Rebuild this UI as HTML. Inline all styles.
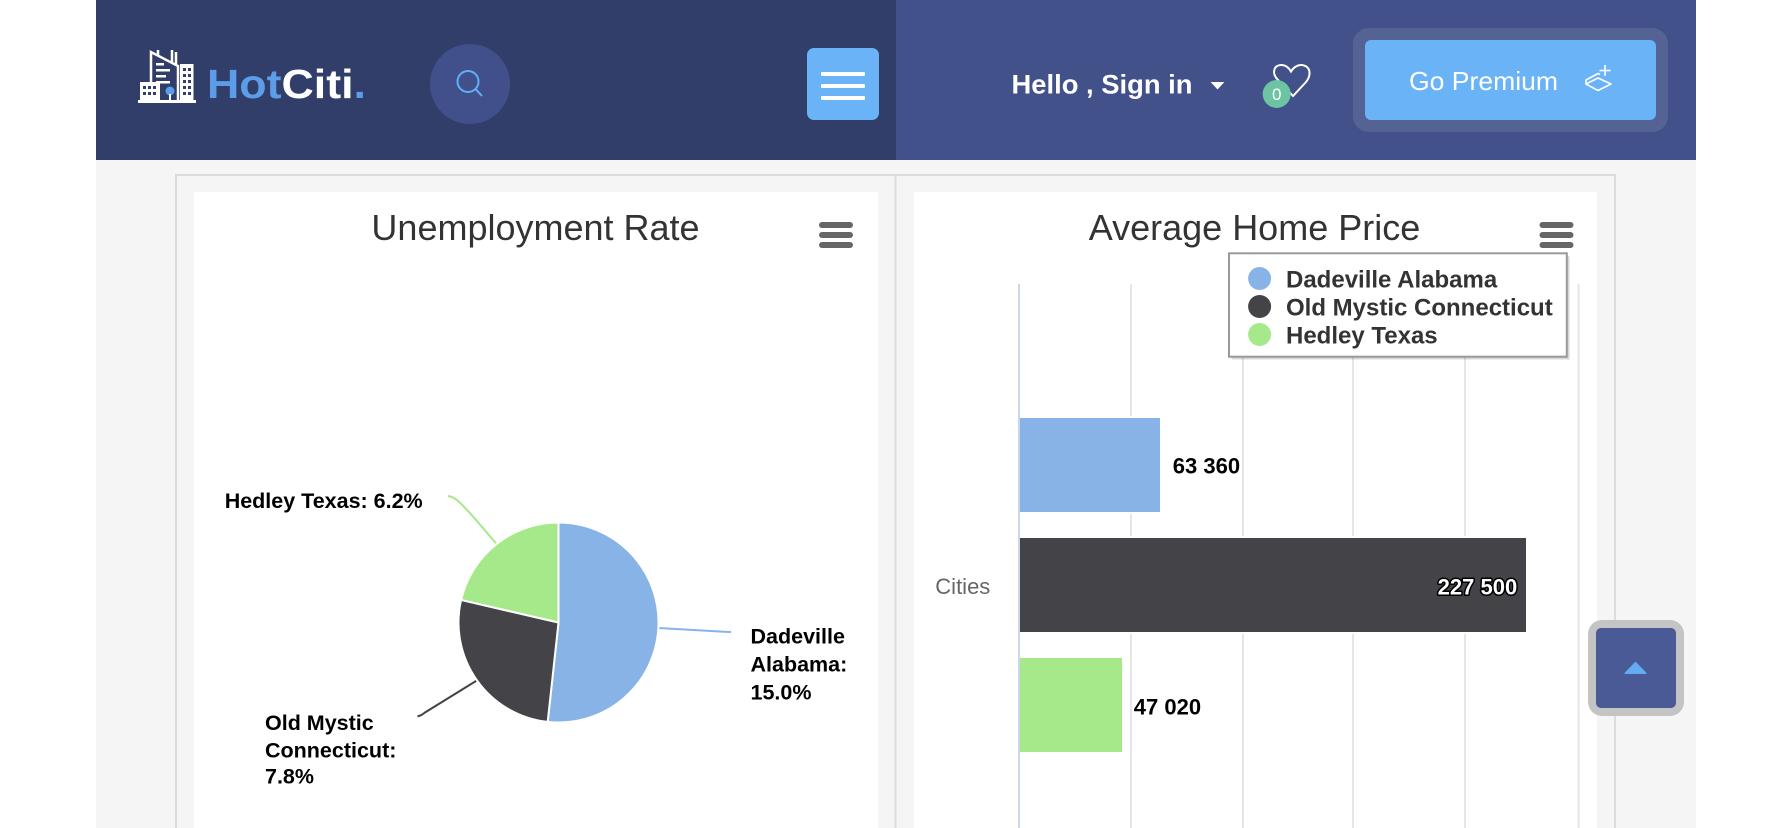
<!DOCTYPE html>
<html>
<head>
<meta charset="utf-8">
<style>
html,body{margin:0;padding:0;background:#fff;}
body{width:1792px;height:828px;overflow:hidden;}
svg{display:block;font-family:"Liberation Sans",Arial,sans-serif;}
</style>
</head>
<body>
<svg width="1792" height="828" viewBox="0 0 1792 828" xmlns="http://www.w3.org/2000/svg">
  <!-- page background -->
  <rect x="0" y="0" width="1792" height="828" fill="#ffffff"/>
  <rect x="96" y="160" width="1600" height="668" fill="#f5f5f5"/>

  <!-- header -->
  <rect x="96" y="0" width="800" height="160" fill="#323e6a"/>
  <rect x="896" y="0" width="800" height="160" fill="#42518a"/>

  <!-- logo icon -->
  <g fill="none" stroke="#ffffff" stroke-width="2.5">
    <path d="M151 101 L151 52 L178 66 L178 101"/>
    <line x1="158" y1="50" x2="158" y2="56"/>
    <line x1="172" y1="50" x2="172" y2="62"/>
    <line x1="176" y1="52" x2="176" y2="64"/>
  </g>
  <g fill="#ffffff">
    <rect x="156" y="63" width="8" height="2.5"/>
    <rect x="156" y="69" width="14" height="2.5"/>
    <rect x="156" y="75" width="10" height="2.5"/>
    <rect x="156" y="81" width="14" height="2.5"/>
    <rect x="180" y="64" width="13.5" height="38"/>
    <rect x="140" y="82" width="20" height="20"/>
    <rect x="138" y="100" width="58" height="3"/>
  </g>
  <g fill="#323e6a">
    <rect x="183" y="68" width="3" height="3"/><rect x="188" y="68" width="3" height="3"/>
    <rect x="183" y="74" width="3" height="3"/><rect x="188" y="74" width="3" height="3"/>
    <rect x="183" y="80" width="3" height="3"/><rect x="188" y="80" width="3" height="3"/>
    <rect x="183" y="86" width="3" height="3"/><rect x="188" y="86" width="3" height="3"/>
    <rect x="183" y="92" width="3" height="3"/><rect x="188" y="92" width="3" height="3"/>
    <rect x="143" y="86" width="3" height="3"/><rect x="148" y="86" width="3" height="3"/><rect x="153" y="86" width="3" height="3"/>
    <rect x="143" y="92" width="3" height="3"/><rect x="148" y="92" width="3" height="3"/><rect x="153" y="92" width="3" height="3"/>
  </g>
  <circle cx="170" cy="91" r="4.5" fill="#5b9de8"/>
  <line x1="170" y1="94" x2="170" y2="101" stroke="#ffffff" stroke-width="2"/>

  <text x="207" y="98" font-size="41" font-weight="bold" textLength="159" lengthAdjust="spacingAndGlyphs"><tspan fill="#5b9de8">Hot</tspan><tspan fill="#ffffff">Citi</tspan><tspan fill="#5b9de8">.</tspan></text>

  <!-- search -->
  <circle cx="470" cy="84" r="40" fill="#41508a"/>
  <circle cx="468" cy="81.5" r="10.5" fill="none" stroke="#5fb0f5" stroke-width="2"/>
  <line x1="475.8" y1="89.3" x2="482" y2="96" stroke="#5fb0f5" stroke-width="2"/>

  <!-- hamburger button -->
  <rect x="807" y="48" width="72" height="72" rx="7" fill="#69b3f6"/>
  <rect x="821" y="72" width="44" height="4" rx="1" fill="#ffffff"/>
  <rect x="821" y="84" width="44" height="4" rx="1" fill="#ffffff"/>
  <rect x="821" y="96" width="44" height="4" rx="1" fill="#ffffff"/>

  <!-- Hello sign in -->
  <text x="1011.5" y="93.5" font-size="27" font-weight="bold" fill="#ffffff" textLength="181" lengthAdjust="spacingAndGlyphs">Hello , Sign in</text>
  <polygon points="1210.6,82 1224.4,82 1217.5,89.5" fill="#ffffff"/>

  <!-- heart -->
  <path d="M1293 96 L1278 80 C1271 73 1274 64.5 1282 65 C1286 65.3 1289 68 1291 71.5 C1294 66.5 1299 64 1304 65.5 C1311 67.5 1311 76 1306 82 Z" fill="none" stroke="#ffffff" stroke-width="2"/>
  <circle cx="1276.7" cy="94" r="14" fill="#6cc4a2"/>
  <text x="1276.7" y="100" font-size="17" fill="#ffffff" text-anchor="middle">0</text>

  <!-- Go Premium -->
  <rect x="1353" y="28" width="315" height="104" rx="16" fill="#546394"/>
  <rect x="1365" y="40" width="291" height="80" rx="6" fill="#69b3f6"/>
  <text x="1409" y="90" font-size="26" fill="#ffffff" textLength="149" lengthAdjust="spacingAndGlyphs">Go Premium</text>
  <g fill="none" stroke="#ffffff" stroke-width="1.6" stroke-linejoin="round">
    <path d="M1586 84 L1598 78 L1611 84 L1598 90.5 Z"/>
    <path d="M1586 84 L1586 80 L1598 73.5 L1600 74.5"/>
    <line x1="1605" y1="65" x2="1605" y2="76"/>
    <line x1="1599.5" y1="70.5" x2="1610.5" y2="70.5"/>
  </g>

  <!-- panel borders -->
  <g stroke="#dcdcdc" stroke-width="2">
    <line x1="175" y1="175" x2="1616" y2="175"/>
    <line x1="176" y1="174" x2="176" y2="828"/>
    <line x1="1615" y1="174" x2="1615" y2="828"/>
    <line x1="895.5" y1="175" x2="895.5" y2="828"/>
  </g>

  <!-- chart boxes -->
  <rect x="194" y="192" width="684" height="636" fill="#ffffff"/>
  <rect x="914" y="192" width="683" height="636" fill="#ffffff"/>

  <!-- LEFT CHART: pie -->
  <text x="535.5" y="240" font-size="36" fill="#333333" text-anchor="middle">Unemployment Rate</text>
  <rect x="819" y="222" width="34" height="6" rx="3" fill="#666666"/>
  <rect x="819" y="232" width="34" height="6" rx="3" fill="#666666"/>
  <rect x="819" y="242" width="34" height="6" rx="3" fill="#666666"/>

  <!-- connectors -->
  <path d="M448 496 C456 497 462 503 496.5 544" fill="none" stroke="#a6e98a" stroke-width="2"/>
  <path d="M658.4 628 L722 631.6 Q727 632 731 632" fill="none" stroke="#88b3e6" stroke-width="2"/>
  <path d="M477 680.4 L425 712.5 Q421 715.8 417.5 716.3" fill="none" stroke="#434348" stroke-width="2"/>

  <g stroke="#ffffff" stroke-width="2" stroke-linejoin="round">
    <path d="M558.5 622.5 L558.5 522.5 A100 100 0 1 1 547.68 721.91 Z" fill="#88b3e6"/>
    <path d="M558.5 622.5 L547.68 721.91 A100 100 0 0 1 461.08 599.96 Z" fill="#434348"/>
    <path d="M558.5 622.5 L461.08 599.96 A100 100 0 0 1 558.5 522.5 Z" fill="#a6e98a"/>
  </g>

  <g font-size="21.5" font-weight="bold" fill="#000000">
    <text x="224.7" y="508">Hedley Texas: 6.2%</text>
    <text x="750.5" y="643.7">Dadeville</text>
    <text x="750.5" y="671.7">Alabama:</text>
    <text x="750.5" y="699.7">15.0%</text>
    <text x="265" y="730">Old Mystic</text>
    <text x="265" y="757.3">Connecticut:</text>
    <text x="265" y="783.3">7.8%</text>
  </g>

  <!-- RIGHT CHART: bars -->
  <text x="1254.5" y="240" font-size="36" fill="#333333" text-anchor="middle">Average Home Price</text>
  <rect x="1539.5" y="222" width="34" height="6" rx="3" fill="#666666"/>
  <rect x="1539.5" y="232" width="34" height="6" rx="3" fill="#666666"/>
  <rect x="1539.5" y="242" width="34" height="6" rx="3" fill="#666666"/>

  <g stroke="#e6e6e6" stroke-width="2">
    <line x1="1131" y1="284" x2="1131" y2="828"/>
    <line x1="1243" y1="284" x2="1243" y2="828"/>
    <line x1="1353" y1="284" x2="1353" y2="828"/>
    <line x1="1465" y1="284" x2="1465" y2="828"/>
    <line x1="1578.6" y1="284" x2="1578.6" y2="828"/>
  </g>

  <!-- bar backgrounds (white gaps) -->
  <g fill="#ffffff">
    <rect x="1020" y="416" width="143" height="98"/>
    <rect x="1020" y="536" width="508" height="98"/>
    <rect x="1020" y="656" width="105" height="98"/>
  </g>
  <rect x="1020" y="418" width="140" height="94" fill="#88b3e6"/>
  <rect x="1020" y="538" width="506" height="94" fill="#434348"/>
  <rect x="1020" y="658" width="102" height="94" fill="#a6e98a"/>

  <line x1="1019" y1="284" x2="1019" y2="828" stroke="#ccd6eb" stroke-width="2"/>

  <g font-size="22" font-weight="bold">
    <text x="1172.8" y="473.3" fill="#000000">63 360</text>
    <text x="1517.2" y="594.3" fill="#ffffff" stroke="#000000" stroke-width="3" paint-order="stroke" stroke-linejoin="round" text-anchor="end">227 500</text>
    <text x="1133.8" y="714.3" fill="#000000">47 020</text>
  </g>
  <text x="935.3" y="594" font-size="22" fill="#666666">Cities</text>

  <!-- legend -->
  <rect x="1232" y="256.5" width="338" height="103.5" fill="#000000" opacity="0.08"/>
  <rect x="1231" y="255.5" width="338" height="103.5" fill="#000000" opacity="0.08"/>
  <rect x="1229" y="253.3" width="337.8" height="103.4" fill="#ffffff" stroke="#999999" stroke-width="2"/>
  <circle cx="1259.6" cy="278.5" r="11.5" fill="#88b3e6"/>
  <circle cx="1259.6" cy="306.5" r="11.5" fill="#434348"/>
  <circle cx="1259.6" cy="334.5" r="11.5" fill="#a6e98a"/>
  <g font-size="24" font-weight="bold" fill="#333333">
    <text x="1286" y="287.3">Dadeville Alabama</text>
    <text x="1286" y="315.3">Old Mystic Connecticut</text>
    <text x="1286" y="343.3">Hedley Texas</text>
  </g>

  <!-- scroll top button -->
  <rect x="1588" y="620" width="96" height="96" rx="14" fill="#c4c4c4"/>
  <rect x="1596" y="628" width="80" height="80" rx="5" fill="#4a5a96"/>
  <polygon points="1625.3,673.3 1645.8,673.3 1635.5,662.7" fill="#63acf2" stroke="#63acf2" stroke-width="1.5" stroke-linejoin="round"/>
</svg>
</body>
</html>
